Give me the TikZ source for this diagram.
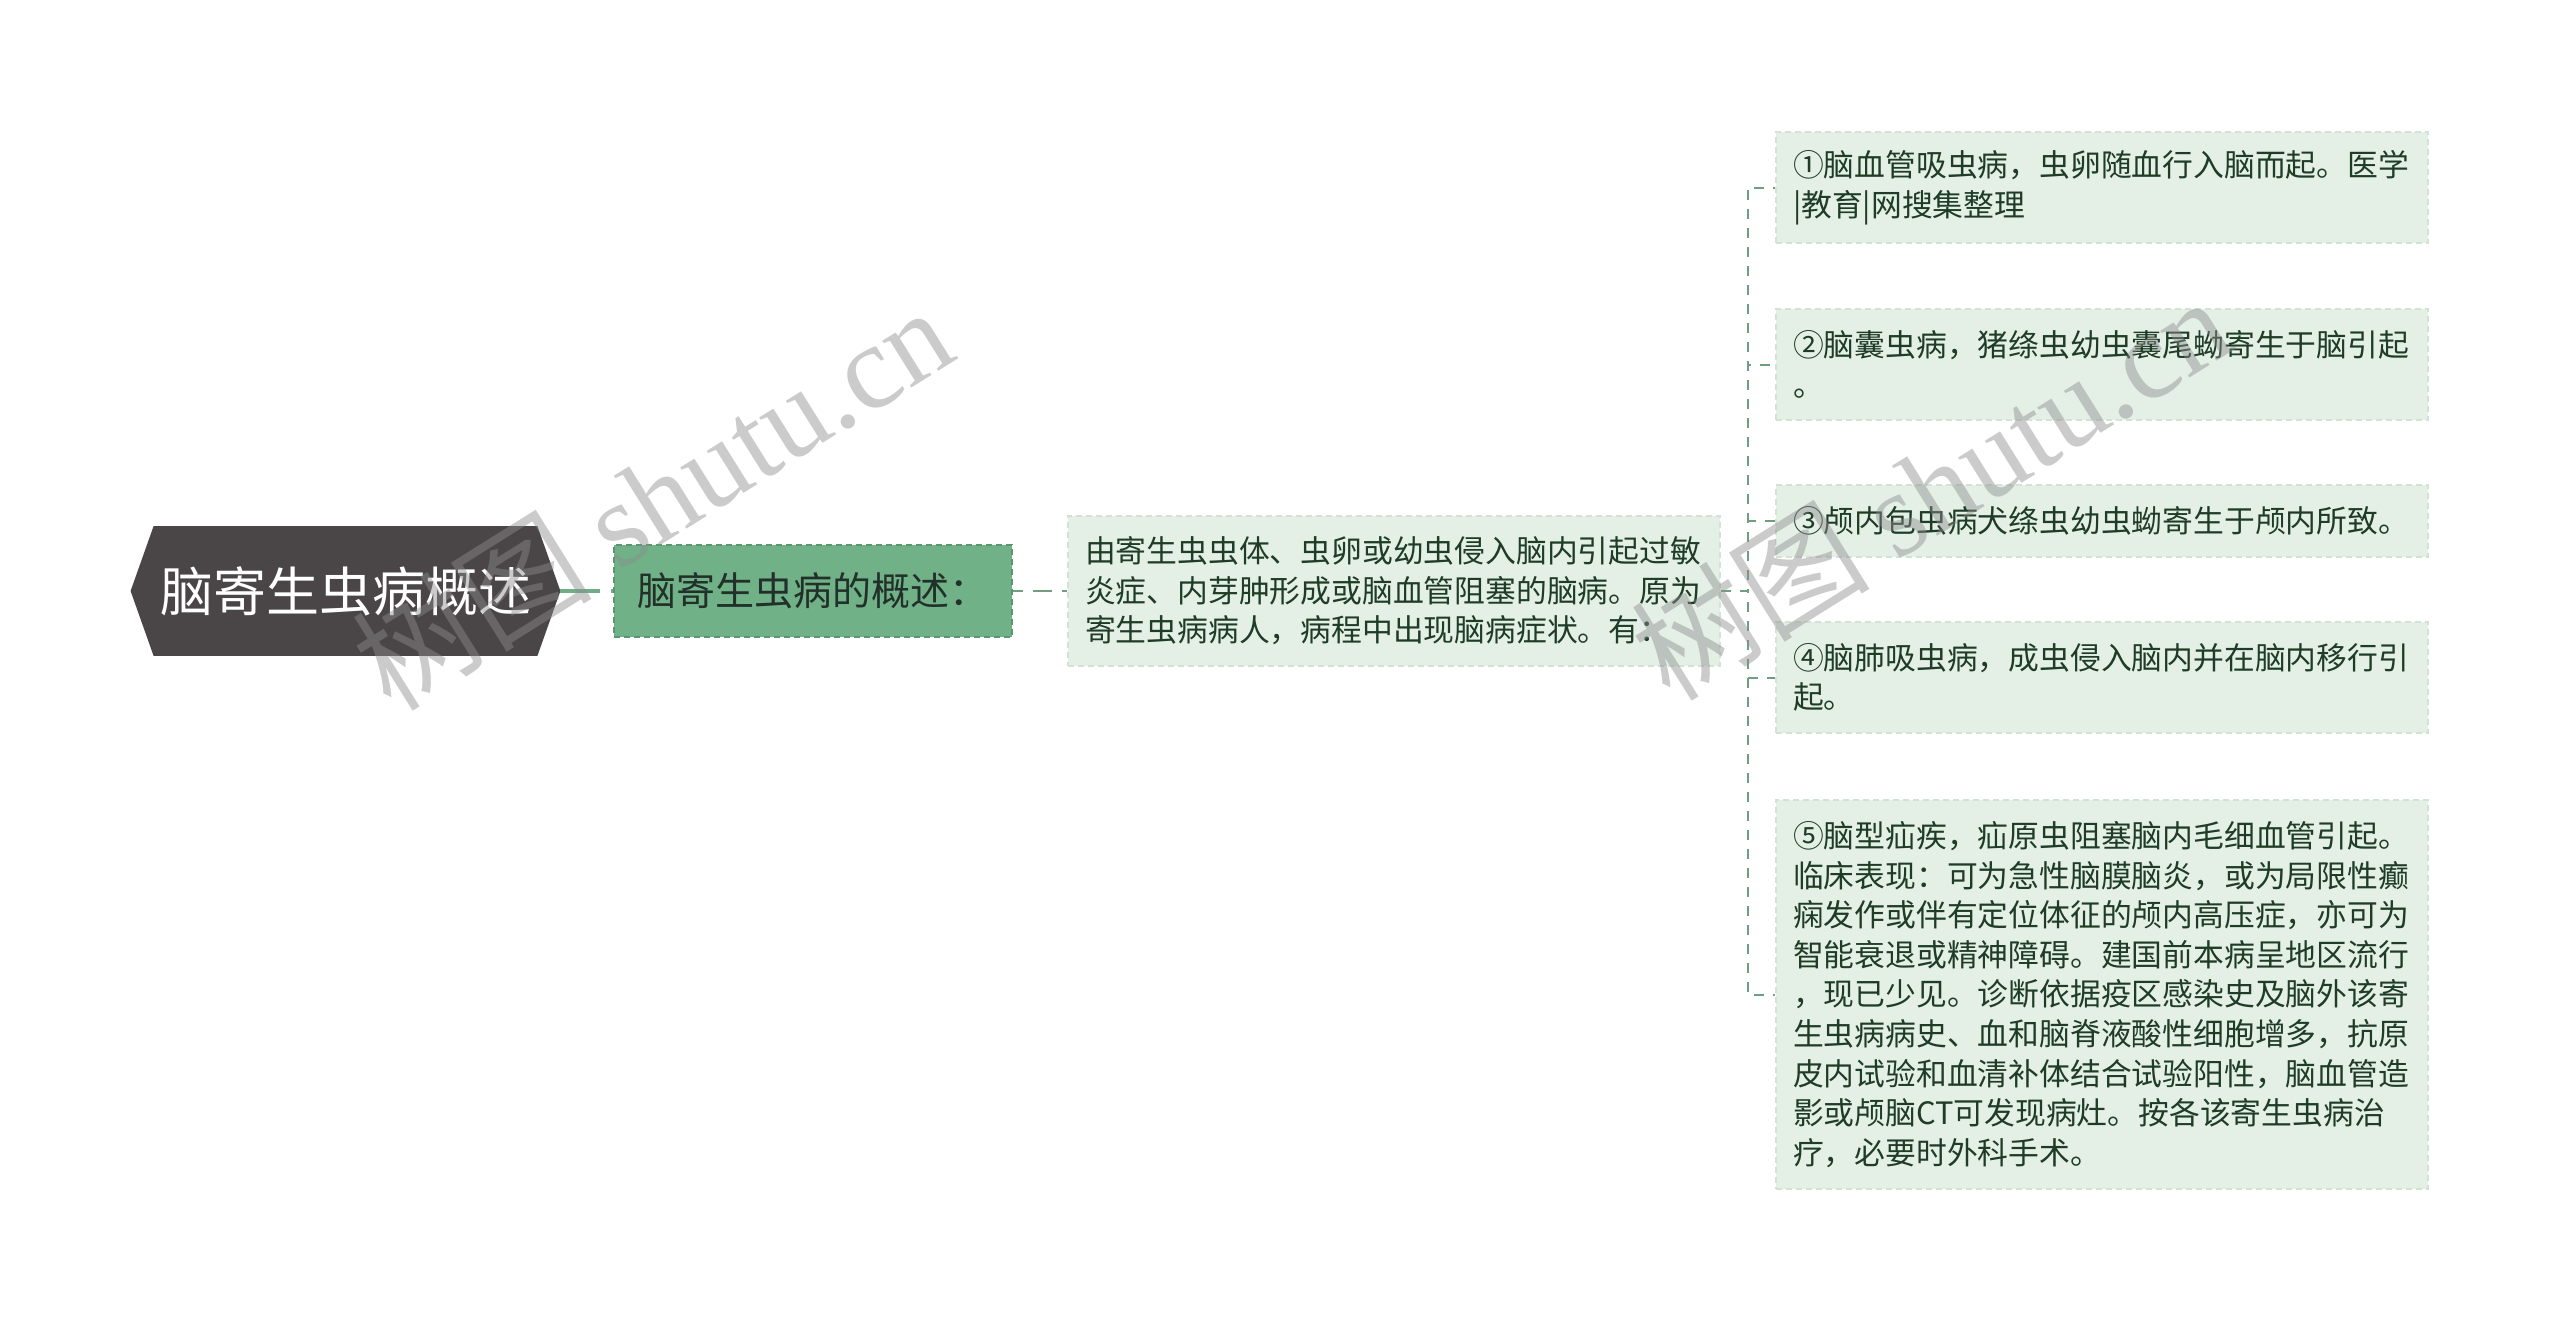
\documentclass[tikz,border=0pt]{standalone}
\usepackage{fontspec}
\setmainfont{Noto Sans CJK SC}
\newfontfamily\wmserif{Liberation Serif}
\usetikzlibrary{backgrounds}
\definecolor{rootfill}{HTML}{4A4546}
\definecolor{greenfill}{HTML}{70B187}
\definecolor{greenborder}{HTML}{5A9771}
\definecolor{greentext}{HTML}{22302A}
\definecolor{leaffill}{HTML}{E4EFE6}
\definecolor{leafborder}{HTML}{D2E2D5}
\definecolor{leaftext}{HTML}{1E3C26}
\definecolor{linkgreen}{HTML}{72AD88}
\definecolor{linkdash}{HTML}{6F9E81}
\definecolor{wmgray}{HTML}{8C8C8C}
\begin{document}
\begin{tikzpicture}[x=0.5pt,y=-0.5pt,
  rootnode/.style={inner sep=0pt, minimum width=214.5pt, minimum height=64.5pt,
    text=white, font=\fontsize{26.5}{30}\selectfont},
  subnode/.style={fill=greenfill, draw=greenborder, line width=0.9pt,
    dash pattern=on 3pt off 2pt, inner sep=0pt, minimum width=199pt,
    minimum height=46pt, text=greentext, font=\fontsize{19.5}{23}\selectfont},
  leafbox/.style={fill=leaffill, draw=leafborder, line width=0.9pt,
    dash pattern=on 3pt off 2pt, text=leaftext,
    font=\fontsize{15.4}{19.8}\selectfont, text width=309pt, align=left,
    inner xsep=8.5pt, inner ysep=0pt},
  solidlink/.style={draw=linkgreen, line width=1.7pt, dash pattern=on 20pt off 5.5pt on 20pt},
  dashlink/.style={draw=linkdash, line width=1pt, dash pattern=on 9.5pt off 5pt, dash phase=4.5pt},
  spinelink/.style={draw=linkdash, line width=1pt, dash pattern=on 5pt off 4.5pt},
  wmark/.style={rotate=32, text=wmgray, opacity=0.45, inner sep=0pt}
]
\useasboundingbox (0,0) rectangle (2560,1322);

% nodes
\node[rootnode] (root) at (345.5,591) {脑寄生虫病概述};
\node[subnode] (sub) at (813,591) {脑寄生虫病的概述：};
\node[leafbox, minimum height=75pt] (desc) at (1394,591)
  {由寄生虫虫体、虫卵或幼虫侵入脑内引起过敏\\炎症、内芽肿形成或脑血管阻塞的脑病。原为\\寄生虫病病人，病程中出现脑病症状。有：};
\node[leafbox, minimum height=55.5pt] (l1) at (2102,187.5)
  {①脑血管吸虫病，虫卵随血行入脑而起。医学\\|教育|网搜集整理};
\node[leafbox, minimum height=55.5pt] (l2) at (2102,364.5)
  {②脑囊虫病，猪绦虫幼虫囊尾蚴寄生于脑引起\\。};
\node[leafbox, minimum height=36pt] (l3) at (2102,521)
  {③颅内包虫病犬绦虫幼虫蚴寄生于颅内所致。};
\node[leafbox, minimum height=55.5pt] (l4) at (2102,677.5)
  {④脑肺吸虫病，成虫侵入脑内并在脑内移行引\\起。};
\node[leafbox, minimum height=194.5pt] (l5) at (2102,994.5)
  {⑤脑型疝疾，疝原虫阻塞脑内毛细血管引起。\\临床表现：可为急性脑膜脑炎，或为局限性癫\\痫发作或伴有定位体征的颅内高压症，亦可为\\智能衰退或精神障碍。建国前本病呈地区流行\\，现已少见。诊断依据疫区感染史及脑外该寄\\生虫病病史、血和脑脊液酸性细胞增多，抗原\\皮内试验和血清补体结合试验阳性，脑血管造\\影或颅脑CT可发现病灶。按各该寄生虫病治\\疗，必要时外科手术。};

% background and hexagon
\begin{scope}[on background layer]
  \fill[white] (0,0) rectangle (2560,1322);
  \fill[rootfill] (root.west) -- ([xshift=11.5pt]root.north west)
    -- ([xshift=-11.5pt]root.north east) -- (root.east)
    -- ([xshift=-11.5pt]root.south east) -- ([xshift=11.5pt]root.south west) -- cycle;
\end{scope}

% connectors
\coordinate (sp) at (1748,591);
\draw[solidlink] (root.east) -- (sub.west);
\draw[dashlink] (sub.east) -- (desc.west);
\foreach \l in {l1,l2,l3,l4,l5}
  \draw[spinelink] (desc.east) -- (sp) |- (\l.west);

% watermarks
\node[wmark, font=\fontsize{60}{60}\selectfont] (wm1) at (652,497) {树图 {\wmserif shutu.cn}};
\node[wmark, font=\fontsize{60}{60}\selectfont] (wm2) at (1930,487) {树图 {\wmserif shutu.cn}};
\end{tikzpicture}
\end{document}
